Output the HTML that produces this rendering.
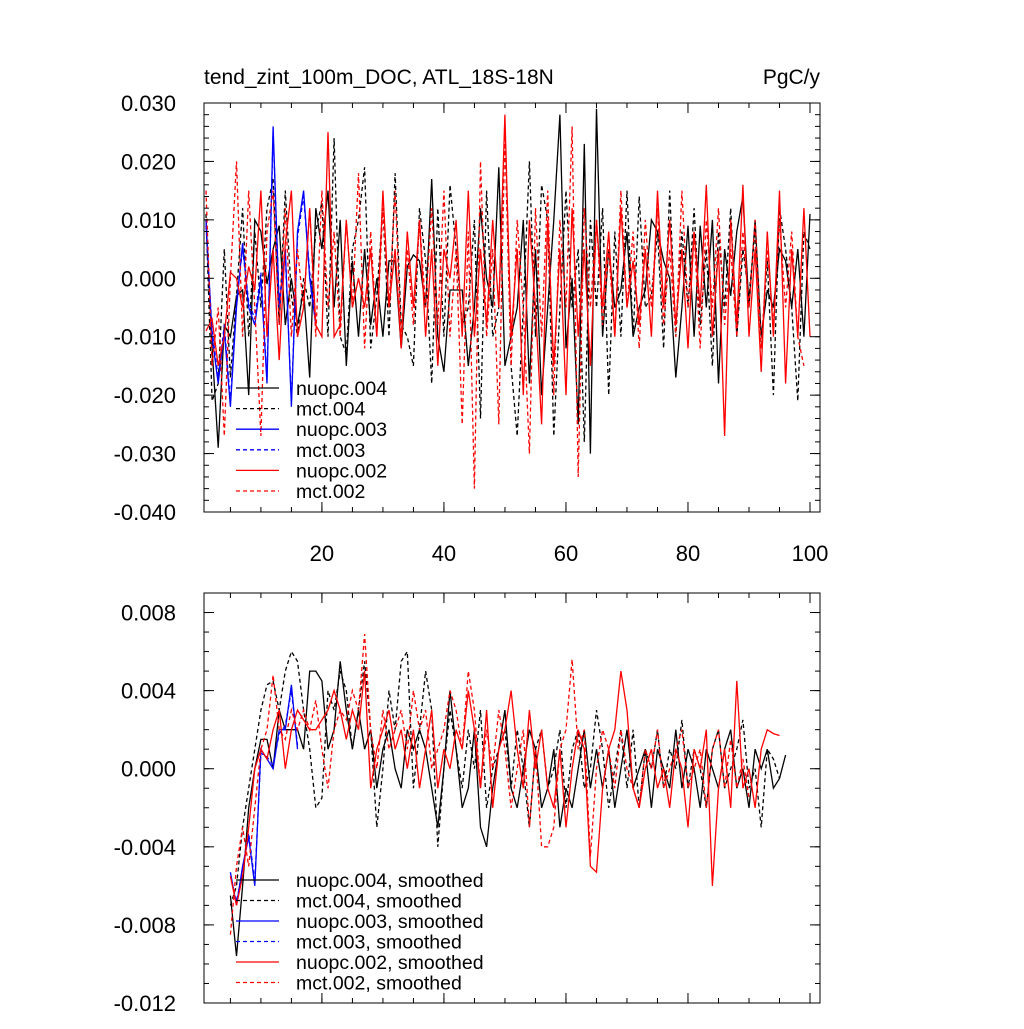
<!DOCTYPE html>
<html><head><meta charset="utf-8"><style>
html,body{margin:0;padding:0;background:#fff;}
svg text{font-family:"Liberation Sans",sans-serif;}
</style></head><body>
<svg id="c" width="1024" height="1024" xmlns="http://www.w3.org/2000/svg"></svg>
<script>
// top panel data (units of 0.001 PgC/y)
const topYTicks=[0.030,0.020,0.010,0.000,-0.010,-0.020,-0.030,-0.040];
const topYLabels=["0.030","0.020","0.010","0.000","-0.010","-0.020","-0.030","-0.040"];
const xTicks=[20,40,60,80,100];
const xLabels=["20","40","60","80","100"];
const n004=[10,-12,-29,-8,-10,-3,-2,-20,10,8,-1,5,9,-8,0,-8,-2,-17,12,5,15,-5,10,-15,3,-10,5,-8,0,-10,3,3,-12,2,4,3,-5,17,-10,-16,-2,-2,-2,-15,-5,12,0,-5,19,-15,-10,-5,10,-18,5,-20,-5,10,28,-12,0,-25,23,-30,29,-10,5,-5,-2,8,-10,-5,-2,10,8,3,0,-17,-5,9,-10,9,-5,10,-18,5,-3,8,14,-5,10,-10,-2,-5,5,3,-5,5,-10,11];
const m004=[11,-21,-18,5,-17,-3,12,-10,8,-5,12,17,-8,15,-3,-10,0,-5,8,13,-10,24,-10,-13,5,10,19,-12,-3,12,-10,18,-8,-10,-15,12,3,-18,12,-10,16,5,-8,-5,10,-24,15,-10,-5,25,-15,-27,-5,20,-10,16,10,-27,-5,15,-5,5,-28,10,-5,12,-20,8,-10,15,-10,14,-5,-3,8,-12,15,-10,8,-5,12,-8,5,-15,8,-5,12,-10,5,-3,8,-12,3,-20,12,5,-5,-21,8,5];
const n003=[10,-10,-18,-9,-22,-5,6,-5,-8,0,-18,26,-5,5,-22,8,15,0,-8];
const m003=[9,-9,-17,-8,-21,-4,5,-4,-7,1,-17,25,-4,4,-21,7,14,1,-7];
const n002=[-9,-7,-15,-10,1,0,-5,2,-2,15,-10,5,-14,6,15,-10,-5,12,-8,-10,25,-10,-8,10,-5,0,-5,5,-10,15,-5,5,-12,8,-5,10,-10,5,-15,5,0,10,-10,15,-10,5,-8,10,-5,28,-10,5,-20,10,-5,-25,10,-15,5,-20,12,-10,5,-15,10,-5,8,-10,12,-5,3,-8,5,-10,15,-5,10,-8,5,-12,8,-5,16,-10,5,-27,10,-8,16,-10,5,-16,8,-10,15,-18,5,-10,12,-10];
const m002=[15,-15,-5,-27,0,20,-10,15,-5,-27,8,15,-8,12,-10,5,-5,12,-10,15,-5,8,-10,10,-5,18,-12,8,-10,12,-5,15,-10,5,-8,10,-5,12,-8,15,-10,5,-25,8,-36,20,-10,5,-25,25,-15,10,-5,-30,12,-10,15,-20,10,-5,26,-34,12,-5,10,-8,5,-10,15,-5,8,-12,10,-5,12,-8,5,-10,15,-5,8,-12,10,-5,12,-8,5,-10,8,-5,10,-12,5,-8,10,-5,8,-10,-15];
// bottom panel data (smoothed, units of 0.001)
const botYTicks=[0.008,0.004,0.000,-0.004,-0.008,-0.012];
const botYLabels=["0.008","0.004","0.000","-0.004","-0.008","-0.012"];
const sN004=[-6.5,-9.6,-6,-2,0,1.5,1.5,0,3,2,2,2,1,5,5,4.5,1,2,5.5,3,1,3,1,2,-1,1,2,0,-1,2,1,2,1,-1,-3,0,4,1,-2,-1,2,-3,-4,-1,1,3,-1,-2,0,2,1,-2,-1,1,-3,-1,-2,0,2,-1,1,-1,1,-2,0,2,-1,0,1,-2,1,0,-1,2,-1,1,0,-2,1,0,-1,1,2,-1,0,-2,1,0,1,-1,-0.5,0.7];
const sM004=[-7,-6,-3,-1,1,3,4.3,4.5,3,5,6,5.5,3,1,-2,-1.5,4,3,5,4,1,3,5.5,2,-3,0,4,2,5.5,6,-1,2,5,3,-4,0,3,1,-1,2,0,3,-2,0,1,2,-1,2,0,-3,1,2,-1,0,2,-2,1,2,-1,0,3,1,-2,0,2,-1,2,-2,1,0,2,-1,1,0,2.5,-1,1,0,-2,1,2,-1,0,1,2.5,-1,0,-3,1,0.5,-0.5];
const sN003=[-5.3,-7,-5,-3.5,-6,1,0.5,0,2,2,4.3,1];
const sM003=[-5.5,-6.8,-5.2,-3.3,-5.8,0.8,0.6,0.2,1.8,2.2,4,1.2];
const sN002=[-5.5,-7,-5.5,-3,0,1,0.5,2,3,0,2,3,2.5,2,2,2.5,3,4,3,1.5,3,2,5,-1,1,2,3,1,2,0,2,-1,1,3,-1,1,0,2,1,4,2,-1,3,-2,1,2,4,1,-1,3,0,2,-1,-2,1,-3,0,2,1,-5,-5.3,-1,1,2,5,3,-1,-2,0,1,-1,0,-2,1,0,-3,1,0,2,-6,-1,1,-2,4.5,-1,0,-2,1,2,1.8,1.7];
const sM002=[-8.5,-5,-3,-5,-2,1,2,4.8,2,1.5,3,2,3,2,3.5,1,-1,2,3,2.5,4,3,6.9,2,0,3,1,2,3,1,4,2,3,0,1,2,4,3,1,5,3,-1,2,0,3,1,-2,0,2,-3,1,-4,-4,-3,1,2,5.6,1,2,-4.5,0,2,1,-1,2,0,-1,-2,1,0,2,-1,0,1,2,-1,0,1,-2,1,2,-1,1.5,-1,0.5,-1.5];
const topNames=["nuopc.004","mct.004","nuopc.003","mct.003","nuopc.002","mct.002"];
const botNames=["nuopc.004, smoothed","mct.004, smoothed","nuopc.003, smoothed","mct.003, smoothed","nuopc.002, smoothed","mct.002, smoothed"];

const NS="http://www.w3.org/2000/svg";
const svg=document.getElementById('c');
function mk(tag,attrs,parent){const e=document.createElementNS(NS,tag);for(const k in attrs)e.setAttribute(k,attrs[k]);(parent||svg).appendChild(e);return e;}
const X0=204,X1=820;
function xs(v){return 206+(v-1)*(810-206)/99;}
const colors=["#000","#000","#0000ff","#0000ff","#ff0000","#ff0000"];
const dashes=[null,"4,3",null,"4,3",null,"4,3"];

function panel(name,top,bot,ymax,ymin,yTicks,yLabels,minorStep,series,starts,names,showX,legY,legFont,legGap){
  const g=mk('g',{},svg);
  
  
  const ys=v=>top+(ymax-v)/(ymax-ymin)*(bot-top);
  series.forEach((arr,si)=>{
    const pts=arr.map((v,i)=>xs(starts[si]+i).toFixed(1)+","+ys(v/1000).toFixed(1)).join(" ");
    const p=mk('polyline',{points:pts,fill:"none",stroke:colors[si],"stroke-width":1.3},g);
    if(dashes[si])p.setAttribute('stroke-dasharray',dashes[si]);
    
    
  });
  const f=mk('rect',{x:X0,y:top,width:X1-X0,height:bot-top,fill:"none",stroke:"#000","stroke-width":1},g);
  
  
  yTicks.forEach((t,i)=>{
    const y=ys(t);
    mk('line',{x1:X0,x2:X0+10,y1:y,y2:y,stroke:"#000"},g);
    mk('line',{x1:X1,x2:X1-10,y1:y,y2:y,stroke:"#000"},g);
    const tx=mk('text',{x:176,y:y+8,"text-anchor":"end","font-size":22},g);
    tx.textContent=yLabels[i];
    
    
  });
  for(let v=ymin;v<=ymax+1e-9;v+=minorStep){const y=ys(v);
    mk('line',{x1:X0,x2:X0+5,y1:y,y2:y,stroke:"#000"},g);
    mk('line',{x1:X1,x2:X1-5,y1:y,y2:y,stroke:"#000"},g);}
  xTicks.forEach((t,i)=>{const x=xs(t);
    mk('line',{x1:x,x2:x,y1:bot,y2:bot-10,stroke:"#000"},g);
    mk('line',{x1:x,x2:x,y1:top,y2:top+10,stroke:"#000"},g);
    if(showX){const tx=mk('text',{x:x,y:bot+49,"text-anchor":"middle","font-size":22},g);
      tx.textContent=xLabels[i];
      
      }
  });
  for(let v=5;v<=100;v+=5){const x=xs(v);
    mk('line',{x1:x,x2:x,y1:bot,y2:bot-5,stroke:"#000"},g);
    mk('line',{x1:x,x2:x,y1:top,y2:top+5,stroke:"#000"},g);}
  const lg=mk('g',{},g);
  
  
  names.forEach((n,i)=>{const y=legY+i*legGap;
    const l=mk('line',{x1:236,x2:279,y1:y,y2:y,stroke:colors[i],"stroke-width":1.3},lg);
    if(dashes[i])l.setAttribute('stroke-dasharray',dashes[i]);
    const tx=mk('text',{x:296,y:y+legFont*0.36,"font-size":legFont},lg);
    tx.textContent=n;
    
    
  });
}
panel('top-panel',103,512,0.030,-0.040,topYTicks,topYLabels,0.002,[n004,m004,n003,m003,n002,m002],[1,1,1,1,1,1],topNames,true,388,19.5,20.6);
panel('bottom-panel',593,1003,0.009,-0.012,botYTicks,botYLabels,0.001,[sN004,sM004,sN003,sM003,sN002,sM002],[5,5,5,5,5,5],botNames,false,880,19.5,20.5);
const t1=mk('text',{x:204,y:84,"font-size":21});t1.textContent="tend_zint_100m_DOC, ATL_18S-18N";


const t2=mk('text',{x:820,y:84,"font-size":21,"text-anchor":"end"});t2.textContent="PgC/y";


</script>
</body></html>
